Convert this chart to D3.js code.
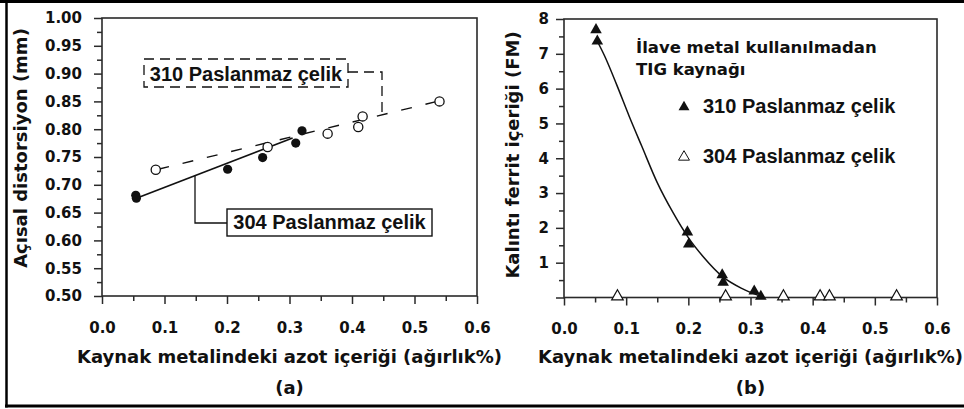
<!DOCTYPE html>
<html>
<head>
<meta charset="utf-8">
<script src="https://cdn.jsdelivr.net/npm/d3@7"></script>
<style>
  html, body { margin: 0; padding: 0; background: #fff; }
  svg { display: block; }
</style>
</head>
<body>
<svg id="chart" width="964" height="409"></svg>
<script>
// ---------- Panel (a): angular distortion vs. weld-metal nitrogen ----------
const steel304N = [0.054, 0.055, 0.201, 0.257, 0.310, 0.320];
const steel304Dist = [0.681, 0.676, 0.728, 0.749, 0.775, 0.797];
const steel310N = [0.086, 0.265, 0.361, 0.410, 0.417, 0.540];
const steel310Dist = [0.727, 0.768, 0.792, 0.804, 0.823, 0.850];
// trend lines (end points)
const trend304N = [0.055, 0.305];
const trend304Dist = [0.676, 0.784];
const trend310N = [0.090, 0.540];
const trend310Dist = [0.728, 0.851];

const distTicks = [0.50, 0.55, 0.60, 0.65, 0.70, 0.75, 0.80, 0.85, 0.90, 0.95, 1.00];
const distTickLabels = ["0.50", "0.55", "0.60", "0.65", "0.70", "0.75", "0.80", "0.85", "0.90", "0.95", "1.00"];
const distMinorTicks = [0.525, 0.575, 0.625, 0.675, 0.725, 0.775, 0.825, 0.875, 0.925, 0.975];

const nTicks = [0.0, 0.1, 0.2, 0.3, 0.4, 0.5, 0.6];
const nTickLabels = ["0.0", "0.1", "0.2", "0.3", "0.4", "0.5", "0.6"];
const nMinorTicks = [0.05, 0.15, 0.25, 0.35, 0.45, 0.55];

// ---------- Panel (b): residual ferrite vs. weld-metal nitrogen ----------
const ferrite310N = [0.0515, 0.0536, 0.1985, 0.2007, 0.2545, 0.2560, 0.3060, 0.3166];
const ferrite310FM = [7.69, 7.36, 1.88, 1.53, 0.65, 0.43, 0.18, 0.03];
const ferrite304N = [0.086, 0.260, 0.353, 0.412, 0.427, 0.535];
const ferrite304FM = [0, 0, 0, 0, 0, 0];
// fitted curve through the 310 data
const fitCurveN = [0.0536, 0.065, 0.085, 0.105, 0.125, 0.150, 0.175, 0.200, 0.225, 0.255, 0.285, 0.316];
const fitCurveFM = [7.36, 6.95, 6.10, 5.20, 4.35, 3.30, 2.45, 1.72, 1.15, 0.60, 0.27, 0.04];

const fmTicks = [0, 1, 2, 3, 4, 5, 6, 7, 8];
const fmTickLabels = ["", "1", "2", "3", "4", "5", "6", "7", "8"];
const fmMinorTicks = [0.5, 1.5, 2.5, 3.5, 4.5, 5.5, 6.5, 7.5];

const xTitle = "Kaynak metalindeki azot içeriği (ağırlık%)";

// ---------- drawing ----------
const svg = d3.select("#chart");
const INK = "#111";
const FRAME = "#2a2a2a";
const WIDE_FONT = "'DejaVu Sans', Verdana, sans-serif";
const LABEL_FONT = "'Liberation Sans', Arial, sans-serif";

// outer border of the figure
svg.append("line").attr("x1", 0).attr("x2", 964).attr("y1", 1.5).attr("y2", 1.5)
  .attr("stroke", "#000").attr("stroke-width", 3);
svg.append("line").attr("x1", 6.5).attr("x2", 6.5).attr("y1", 0).attr("y2", 407.5)
  .attr("stroke", "#000").attr("stroke-width", 2.5);
svg.append("line").attr("x1", 5).attr("x2", 964).attr("y1", 406).attr("y2", 406)
  .attr("stroke", "#000").attr("stroke-width", 3);

function styleAxis(g) {
  g.select(".domain").remove();
  g.selectAll(".tick line").attr("stroke", FRAME).attr("stroke-width", 1.5);
  g.selectAll(".tick text")
    .attr("fill", INK)
    .style("font-family", WIDE_FONT)
    .style("font-weight", "bold")
    .style("font-size", "15px");
}

function drawFrame(x, y, opts) {
  const [x0, x1] = x.range();
  const [y0, y1] = y.range();
  const g = svg.append("g");

  // minor ticks
  g.append("g").attr("transform", `translate(0,${y0})`)
    .call(d3.axisBottom(x).tickValues(nMinorTicks).tickSize(5).tickFormat(""))
    .call(styleAxis);
  g.append("g").attr("transform", `translate(${x0},0)`)
    .call(d3.axisLeft(y).tickValues(opts.yMinor).tickSize(5).tickFormat(""))
    .call(styleAxis);

  // major ticks with labels
  g.append("g").attr("transform", `translate(0,${y0})`)
    .call(d3.axisBottom(x).tickValues(nTicks).tickSize(8).tickPadding(18)
      .tickFormat((d, i) => nTickLabels[i]))
    .call(styleAxis);
  g.append("g").attr("transform", `translate(${x0},0)`)
    .call(d3.axisLeft(y).tickValues(opts.yTicks).tickSize(8).tickPadding(opts.yPad)
      .tickFormat((d, i) => opts.yLabels[i]))
    .call(styleAxis);

  g.append("rect")
    .attr("x", x0).attr("y", y1)
    .attr("width", x1 - x0).attr("height", y0 - y1)
    .attr("fill", "none").attr("stroke", FRAME).attr("stroke-width", 1.6);

  // axis titles
  const cx = (x0 + x1) / 2;
  svg.append("text")
    .attr("x", cx).attr("y", 363)
    .attr("text-anchor", "middle")
    .attr("fill", INK)
    .style("font-family", WIDE_FONT).style("font-weight", "bold").style("font-size", "18px")
    .text(xTitle);
  svg.append("text")
    .attr("x", cx).attr("y", 394)
    .attr("text-anchor", "middle")
    .attr("fill", INK)
    .style("font-family", WIDE_FONT).style("font-weight", "bold").style("font-size", "18px")
    .text(opts.tag);
  svg.append("text")
    .attr("transform", `translate(${opts.yTitleX},${opts.yTitleY}) rotate(-90)`)
    .attr("text-anchor", "middle")
    .attr("fill", INK)
    .style("font-family", WIDE_FONT).style("font-weight", "bold").style("font-size", "18px")
    .text(opts.yTitle);
}

// ===== panel (a) =====
const xA = d3.scaleLinear().domain([0, 0.6]).range([102, 477]);
const yA = d3.scaleLinear().domain([0.5, 1.0]).range([296, 18]);

drawFrame(xA, yA, {
  yTicks: distTicks, yLabels: distTickLabels, yMinor: distMinorTicks, yPad: 12,
  yTitle: "Açısal distorsiyon (mm)", yTitleX: 27, yTitleY: 148, tag: "(a)"
});

const lineA = d3.line().x(d => xA(d[0])).y(d => yA(d[1]));

// 310 trend (dashed) and 304 trend (solid)
svg.append("path")
  .attr("d", lineA(d3.zip(trend310N, trend310Dist)))
  .attr("fill", "none").attr("stroke", INK).attr("stroke-width", 1.4)
  .attr("stroke-dasharray", "11,14");
svg.append("path")
  .attr("d", lineA(d3.zip(trend304N, trend304Dist)))
  .attr("fill", "none").attr("stroke", INK).attr("stroke-width", 1.6);

svg.append("g").selectAll("circle")
  .data(d3.zip(steel310N, steel310Dist))
  .join("circle")
  .attr("cx", d => xA(d[0])).attr("cy", d => yA(d[1])).attr("r", 4.6)
  .attr("fill", "#fff").attr("stroke", INK).attr("stroke-width", 1.3);
svg.append("g").selectAll("circle")
  .data(d3.zip(steel304N, steel304Dist))
  .join("circle")
  .attr("cx", d => xA(d[0])).attr("cy", d => yA(d[1])).attr("r", 4.6)
  .attr("fill", INK);

// value on a trend line at a given nitrogen content
function trendAt(ns, ds, n) {
  return d3.scaleLinear().domain(ns).range(ds)(n);
}

// "310 Paslanmaz çelik" callout (dashed box + leader)
{
  const bx = 144, by = 59, bw = 204, bh = 28;
  const lx = 382;
  const ly = yA(trendAt(trend310N, trend310Dist, xA.invert(lx)));
  svg.append("rect").attr("x", bx).attr("y", by).attr("width", bw).attr("height", bh)
    .attr("fill", "#fff").attr("stroke", INK).attr("stroke-width", 1.3)
    .attr("stroke-dasharray", "10,6");
  svg.append("path")
    .attr("d", `M${bx + bw},${by + 13}H${lx}V${ly}`)
    .attr("fill", "none").attr("stroke", INK).attr("stroke-width", 1.3)
    .attr("stroke-dasharray", "10,6");
  svg.append("text").attr("x", bx + bw / 2).attr("y", by + 22)
    .attr("text-anchor", "middle").attr("fill", INK)
    .style("font-family", LABEL_FONT).style("font-weight", "bold").style("font-size", "20px")
    .text("310 Paslanmaz çelik");
}

// "304 Paslanmaz çelik" callout (solid box + leader)
{
  const bx = 227, by = 209, bw = 205, bh = 27;
  const lx = 195;
  const ly = yA(trendAt(trend304N, trend304Dist, xA.invert(lx)));
  svg.append("path")
    .attr("d", `M${bx},${by + 14}H${lx}V${ly}`)
    .attr("fill", "none").attr("stroke", INK).attr("stroke-width", 1.3);
  svg.append("rect").attr("x", bx).attr("y", by).attr("width", bw).attr("height", bh)
    .attr("fill", "#fff").attr("stroke", INK).attr("stroke-width", 1.4);
  svg.append("text").attr("x", bx + bw / 2).attr("y", by + 20)
    .attr("text-anchor", "middle").attr("fill", INK)
    .style("font-family", LABEL_FONT).style("font-weight", "bold").style("font-size", "20px")
    .text("304 Paslanmaz çelik");
}

// ===== panel (b) =====
const xB = d3.scaleLinear().domain([0, 0.6]).range([564, 937]);
const yB = d3.scaleLinear().domain([0, 8]).range([297.5, 19]);

drawFrame(xB, yB, {
  yTicks: fmTicks, yLabels: fmTickLabels, yMinor: fmMinorTicks, yPad: 7,
  yTitle: "Kalıntı ferrit içeriği (FM)", yTitleX: 519, yTitleY: 155, tag: "(b)"
});

svg.append("path")
  .attr("d", d3.line().curve(d3.curveMonotoneX)
    .x(d => xB(d[0])).y(d => yB(d[1]))(d3.zip(fitCurveN, fitCurveFM)))
  .attr("fill", "none").attr("stroke", INK).attr("stroke-width", 1.5);

const tri = d3.symbol().type(d3.symbolTriangle).size(58);
svg.append("g").selectAll("path")
  .data(d3.zip(ferrite304N, ferrite304FM))
  .join("path")
  .attr("transform", d => `translate(${xB(d[0])},${yB(d[1]) - 1})`)
  .attr("d", tri)
  .attr("fill", "#fff").attr("stroke", INK).attr("stroke-width", 1.2);
svg.append("g").selectAll("path")
  .data(d3.zip(ferrite310N, ferrite310FM))
  .join("path")
  .attr("transform", d => `translate(${xB(d[0])},${yB(d[1])})`)
  .attr("d", tri)
  .attr("fill", INK);

// legend block
const legend = svg.append("g");
legend.append("text").attr("x", 636).attr("y", 53).attr("fill", INK)
  .style("font-family", WIDE_FONT).style("font-weight", "bold").style("font-size", "16.5px")
  .text("İlave metal kullanılmadan");
legend.append("text").attr("x", 636).attr("y", 75).attr("fill", INK)
  .style("font-family", WIDE_FONT).style("font-weight", "bold").style("font-size", "16.5px")
  .text("TIG kaynağı");

const legendItems = [
  { label: "310 Paslanmaz çelik", fill: INK, y: 113 },
  { label: "304 Paslanmaz çelik", fill: "#fff", y: 163 }
];
legendItems.forEach(item => {
  legend.append("path")
    .attr("transform", `translate(684,${item.y - 6})`)
    .attr("d", d3.symbol().type(d3.symbolTriangle).size(52))
    .attr("fill", item.fill).attr("stroke", INK).attr("stroke-width", item.fill === INK ? 0 : 1);
  legend.append("text").attr("x", 703).attr("y", item.y).attr("fill", INK)
    .style("font-family", LABEL_FONT).style("font-weight", "bold").style("font-size", "20px")
    .text(item.label);
});
</script>
</body>
</html>
